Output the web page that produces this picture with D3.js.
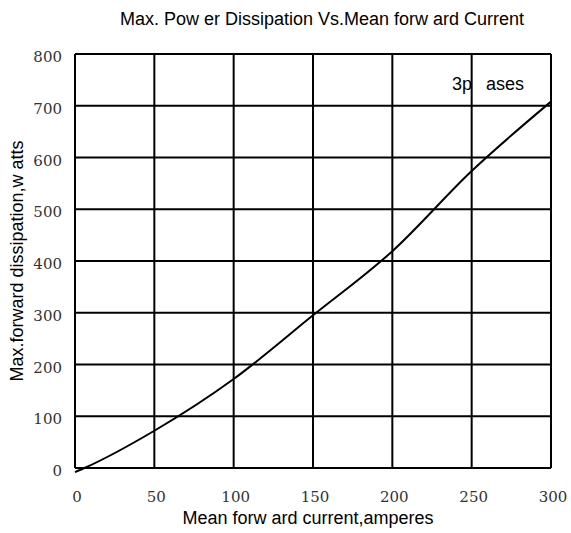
<!DOCTYPE html>
<html>
<head>
<meta charset="utf-8">
<script src="https://cdn.jsdelivr.net/npm/d3@7"></script>
<style>
  body { margin: 0; background: #fff; }
  svg { display: block; }
</style>
</head>
<body>
<div id="chart"></div>
<script>
// values
var currentA = [0, 6, 50, 100, 150, 200, 250, 300];
var powerW = [-8, 0, 72, 172, 295, 419, 574, 708];
var xTicks = [0, 50, 100, 150, 200, 250, 300];
var yTicks = [0, 100, 200, 300, 400, 500, 600, 700, 800];

var svgWidth = 571;
var svgHeight = 533;

var margin = { top: 54, right: 20, bottom: 65, left: 75 };
var width = 551 - margin.left;
var height = 468 - margin.top;

var svg = d3.select("#chart")
  .append("svg")
  .attr("width", svgWidth)
  .attr("height", svgHeight);

var g = svg.append("g")
  .attr("transform", "translate(" + margin.left + "," + margin.top + ")");

var x = d3.scaleLinear().domain([0, 300]).range([0, width]);
var y = d3.scaleLinear().domain([0, 800]).range([height, 0]);

// grid
g.selectAll(".vgrid")
  .data(xTicks)
  .enter().append("line")
  .attr("x1", d => x(d)).attr("x2", d => x(d))
  .attr("y1", 0).attr("y2", height)
  .attr("stroke", "#000").attr("stroke-width", 2);

g.selectAll(".hgrid")
  .data(yTicks)
  .enter().append("line")
  .attr("x1", 0).attr("x2", width)
  .attr("y1", d => y(d)).attr("y2", d => y(d))
  .attr("stroke", "#000").attr("stroke-width", 2);

// tick labels
g.selectAll(".ylab")
  .data(yTicks)
  .enter().append("text")
  .attr("x", -13)
  .attr("y", d => y(d) + 4)
  .attr("text-anchor", "end")
  .attr("dominant-baseline", "middle")
  .style("font-family", "DejaVu Serif")
  .style("font-size", "15px")
  .style("fill", "#333")
  .text(d => d);

g.selectAll(".xlab")
  .data(xTicks)
  .enter().append("text")
  .attr("x", d => x(d) + 2)
  .attr("y", height + 34)
  .attr("text-anchor", "middle")
  .style("font-family", "DejaVu Serif")
  .style("font-size", "15px")
  .style("fill", "#333")
  .text(d => d);

// curve
var line = d3.line()
  .x((d, i) => x(currentA[i]))
  .y(d => y(d))
  .curve(d3.curveMonotoneX);

g.append("path")
  .datum(powerW)
  .attr("fill", "none")
  .attr("stroke", "#000")
  .attr("stroke-width", 2)
  .attr("d", line);

// curve label
g.append("text")
  .attr("x", x(300) - 99)
  .attr("y", y(800) + 36)
  .style("font-family", "Liberation Sans")
  .style("font-size", "18px")
  .style("word-spacing", "9px")
  .text("3p ases");

// titles
svg.append("text")
  .attr("x", 322)
  .attr("y", 25)
  .attr("text-anchor", "middle")
  .style("font-family", "Liberation Sans")
  .style("font-size", "18px")
  .text("Max. Pow er Dissipation Vs.Mean forw ard Current");

svg.append("text")
  .attr("x", 308)
  .attr("y", 524)
  .attr("text-anchor", "middle")
  .style("font-family", "Liberation Sans")
  .style("font-size", "18px")
  .text("Mean  forw ard current,amperes");

svg.append("text")
  .attr("transform", "translate(23," + (margin.top + height / 2) + ") rotate(-90)")
  .attr("text-anchor", "middle")
  .style("font-family", "Liberation Sans")
  .style("font-size", "18px")
  .text("Max.forward dissipation,w atts");
</script>
</body>
</html>
